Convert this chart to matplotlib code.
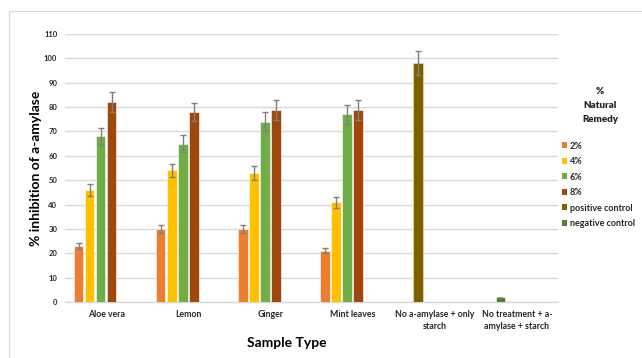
import matplotlib
matplotlib.use("Agg")
import matplotlib.pyplot as plt
from matplotlib.patches import Patch, Rectangle
import numpy as np

categories = ["Aloe vera", "Lemon", "Ginger", "Mint leaves",
              "No a-amylase + only\nstarch", "No treatment + a-\namylase + starch"]
series_names = ["2%", "4%", "6%", "8%", "positive control", "negative control"]
colors = ["#ED7D31", "#FFC000", "#70AD47", "#9E480E", "#7F6000", "#4E7F32"]

# remedy concentrations (first four categories)
v2 = [23, 30, 30, 21]
v4 = [46, 54, 53, 41]
v6 = [68, 65, 74, 77]
v8 = [82, 78, 79, 79]
e2 = [1.2, 1.6, 1.6, 1.0]
e4 = [2.3, 2.7, 2.9, 2.3]
e6 = [3.5, 3.4, 4.0, 4.0]
e8 = [4.2, 3.8, 4.1, 4.1]
# controls
pos_val = [98]
pos_err = [5.0]
neg_val = [2]
neg_err = [0.15]

plt.rcParams['font.family'] = ['Lato', 'DejaVu Sans']
fig = plt.figure(figsize=(6.42, 3.58), dpi=100)
ax = fig.add_axes([65/642, 1-302/358, (558-65)/642, (302-34)/358])

x = np.arange(len(categories))
pitch = 0.134
width = 0.116
offsets = (np.arange(6) - 2.5) * pitch
err_kw = dict(ecolor="#7f7f7f", elinewidth=1.0, capsize=2.2, capthick=1.0)

rem_x = x[:4]
for i, (vals, errs) in enumerate([(v2, e2), (v4, e4), (v6, e6), (v8, e8)]):
    ax.bar(rem_x + offsets[i], vals, width, color=colors[i], yerr=errs,
           error_kw=err_kw, edgecolor="#ffffff", linewidth=0.4, zorder=3)
ax.bar(x[4:5] + offsets[1], pos_val, width, color=colors[4], yerr=pos_err,
       error_kw=err_kw, edgecolor="#f5e9c8", linewidth=0.4, zorder=3)
ax.bar(x[5:6] + offsets[1], neg_val, width, color=colors[5], yerr=neg_err,
       error_kw=dict(ecolor="#9a9a9a", elinewidth=0.6, capsize=1.5, capthick=0.6),
       edgecolor="#ffffff", linewidth=0.4, zorder=3)

ax.set_xlim(-0.5, len(categories) - 0.5)
ax.set_ylim(0, 110)
ax.set_yticks(np.arange(0, 111, 10))
ax.yaxis.grid(True, color="#d9d9d9", linewidth=1.0, zorder=0)
ax.set_axisbelow(True)
for s in ["top", "right", "left"]:
    ax.spines[s].set_visible(False)
ax.spines["bottom"].set_color("#d9d9d9")
ax.spines["bottom"].set_linewidth(1.0)
ax.tick_params(axis="y", length=0, labelsize=5.5, colors="#262626", pad=5.5)
ax.tick_params(axis="x", length=0, labelsize=6.3, colors="#262626", pad=6)
ax.set_xticks(x)
ax.set_xticklabels(categories, fontweight="bold", linespacing=1.4)
for lab in ax.get_yticklabels():
    lab.set_fontweight("bold")

ax.set_ylabel("% inhibition of a-amylase", fontsize=10, fontweight="bold",
              color="#000000")
ax.yaxis.set_label_coords((42 - 65) / 493, 0.5)
ax.set_xlabel("Sample Type", fontsize=10, fontweight="bold", color="#000000")
ax.xaxis.set_label_coords((286.5 - 65) / 493, (302 - 337) / 268)

# legend title
for txt, yc in [("%", 92), ("Natural", 105.5), ("Remedy", 119.5)]:
    fig.text(600/642, 1 - yc/358, txt, ha="center", va="center",
             fontsize=7, fontweight="heavy", color="#262626")

handles = [Patch(facecolor=c, edgecolor="none") for c in colors]
leg = fig.legend(handles, series_names, loc="upper left",
                 bbox_to_anchor=(557/642, 1-137/358), frameon=False,
                 handlelength=0.6, handleheight=0.6, borderpad=0.0,
                 handletextpad=0.3, labelspacing=0.72,
                 prop=dict(size=6.5, weight="bold"))
for t in leg.get_texts():
    t.set_color("#262626")

fig.patches.append(Rectangle((9/642, -0.1), 1.2, 1 - 11/358 + 0.1,
                             transform=fig.transFigure, fill=False,
                             edgecolor="#d9d9d9", linewidth=0.8))
fig.savefig("out.png", dpi=100)
